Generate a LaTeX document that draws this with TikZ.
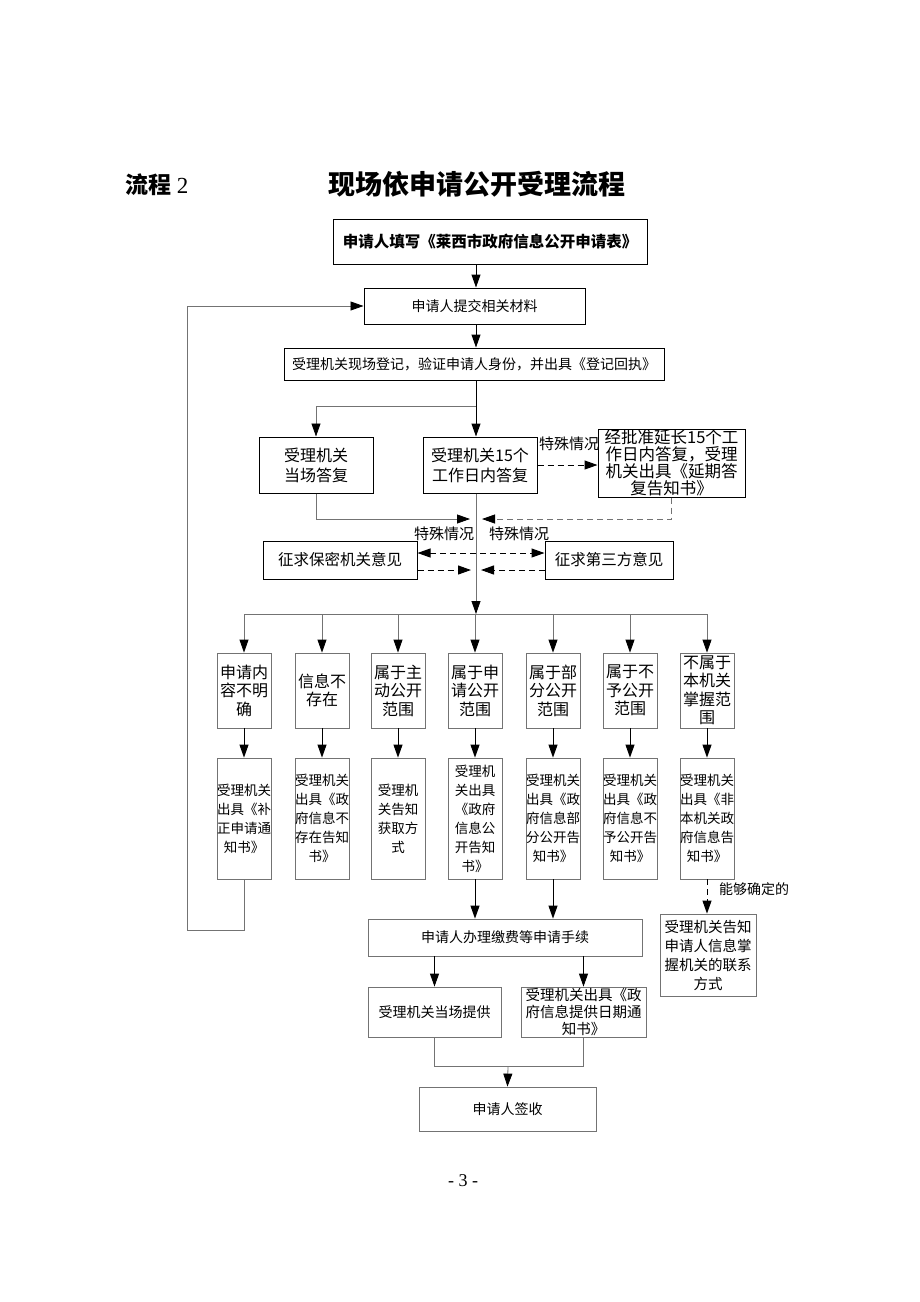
\documentclass[tikz,border=0pt]{standalone}
\usepackage{fontspec}
\setmainfont{Liberation Serif}
\newfontfamily\cjk{Noto Sans CJK SC}
\usetikzlibrary{positioning, arrows.meta}

\tikzset{
  box/.style={draw, line width=1pt, align=center, inner sep=0pt,
    font=\cjk\fontsize{14}{18}\selectfont},
  gbox/.style={box, draw=black!55, line width=0.8pt},
  colbox/.style={gbox, minimum width=54pt},
  arr/.style={-{Triangle[length=13pt,width=9pt]}, line width=1pt},
  garr/.style={-{Triangle[length=13pt,width=9pt,color=black]}, draw=black!55, line width=0.8pt},
  darr/.style={-{Triangle[length=13pt,width=9pt]}, dash pattern=on 6pt off 4pt, line width=1pt},
  gdarr/.style={-{Triangle[length=13pt,width=9pt,color=black]}, dash pattern=on 6pt off 4pt, draw=black!55, line width=0.8pt},
  lbl/.style={font=\cjk\fontsize{15}{16}\selectfont, inner sep=1pt}
}

\begin{document}
\begin{tikzpicture}[x=1pt,y=-1pt]
  \useasboundingbox (0,0) rectangle (920,1302);

  % 标题
  \node[anchor=base west, inner sep=0, font=\fontsize{23}{26}\selectfont] (head) at (125,193) {{\cjk\bfseries 流程} 2};
  \node[anchor=base west, inner sep=0, font=\cjk\fontsize{27}{30}\selectfont\bfseries] (title) at (328,194) {现场依申请公开受理流程};

  % 上部
  \node[box, minimum width=314pt, minimum height=45pt, font=\cjk\fontsize{15.5}{18}\selectfont\bfseries] (form) at (490,241.5) {申请人填写《莱西市政府信息公开申请表》};
  \node[box, minimum width=221pt, minimum height=36pt] (submit) at (474.5,306) {申请人提交相关材料};
  \node[box, minimum width=380pt, minimum height=32pt] (reg) at (474,364) {受理机关现场登记，验证申请人身份，并出具《登记回执》};
  \node[box, minimum width=114pt, minimum height=56pt, font=\cjk\fontsize{16}{20}\selectfont] (spot) at (316,465) {受理机关\\当场答复};
  \node[box, minimum width=114pt, minimum height=56pt, font=\cjk\fontsize{16}{20}\selectfont] (days) at (480,465) {受理机关15个\\工作日内答复};
  \node[box, minimum width=147pt, minimum height=68pt, font=\cjk\fontsize{16.5}{17}\selectfont] (ext) at (671.5,463) {经批准延长15个工\\作日内答复，受理\\机关出具《延期答\\复告知书》};
  \node[box, minimum width=154pt, minimum height=38pt, font=\cjk\fontsize{15.5}{18}\selectfont] (secret) at (340,560) {征求保密机关意见};
  \node[box, minimum width=128pt, minimum height=38pt, font=\cjk\fontsize{15.5}{18}\selectfont] (third) at (609,560) {征求第三方意见};

  \coordinate (spine) at (476,0);
  \coordinate (fork) at (476,406);
  \coordinate (mergeL) at (470,519);
  \coordinate (mergeR) at (482,519);
  \coordinate (bar) at (476,614);

  \draw[arr] (form.south -| spine) -- (submit.north -| spine);
  \draw[arr] (submit.south -| spine) -- (reg.north -| spine);
  \draw[arr] (reg.south -| spine) -- (days.north -| spine);
  \draw[garr] (fork) -| (spot.north);
  \draw[darr] (days.east) -- (ext.west |- days.east);
  \node[lbl, anchor=south west] (spec1) at (538,452) {特殊情况};
  \draw[garr] (spot.south) |- (mergeL);
  \draw[gdarr] (ext.south) |- (mergeR);
  \draw[garr] (days.south -| spine) -- (bar);
  \node[lbl] (spec2) at (444,534) {特殊情况};
  \node[lbl] (spec3) at (519,534) {特殊情况};
  \draw[darr, {Triangle[length=13pt,width=9pt]}-{Triangle[length=13pt,width=9pt]}] (secret.east |- 0,553) -- (third.west |- 0,553);
  \draw[darr] (secret.east |- 0,570) -- (471,570);
  \draw[darr] (third.west |- 0,570) -- (481,570);

  % 七种情形
  \foreach \n/\x/\t in {1/244/申请内\\容不明\\确, 2/322/信息不\\存在, 3/398/属于主\\动公开\\范围,
      4/475/属于申\\请公开\\范围, 5/553/属于部\\分公开\\范围, 6/630/属于不\\予公开\\范围, 7/707/不属于\\本机关\\掌握范\\围}
    \node[colbox, minimum height=75pt, font=\cjk\fontsize{16}{18.5}\selectfont] (p\n) at (\x,690.5) {\t};

  \foreach \n/\x/\t in {1/244/受理机关\\出具《补\\正申请通\\知书》, 2/322/受理机关\\出具《政\\府信息不\\存在告知\\书》,
      3/398/受理机\\关告知\\获取方\\式, 4/475/受理机\\关出具\\《政府\\信息公\\开告知\\书》,
      5/553/受理机关\\出具《政\\府信息部\\分公开告\\知书》, 6/630/受理机关\\出具《政\\府信息不\\予公开告\\知书》,
      7/707/受理机关\\出具《非\\本机关政\\府信息告\\知书》}
    \node[colbox, minimum height=121pt, font=\cjk\fontsize{13.5}{19}\selectfont] (q\n) at (\x,818.5) {\t};

  \draw[draw=black!55, line width=0.8pt] (bar -| p1) -- (bar -| p7);
  \foreach \n in {1,...,7} {
    \draw[garr] (bar -| p\n) -- (p\n.north);
    \draw[arr] (p\n.south) -- (q\n.north);
  }

  % 下部
  \node[gbox, minimum width=274pt, minimum height=37pt] (fee) at (505,937.5) {申请人办理缴费等申请手续};
  \node[gbox, minimum width=96pt, minimum height=82pt, font=\cjk\fontsize{14.5}{19}\selectfont] (tell) at (708,955) {受理机关告知\\申请人信息掌\\握机关的联系\\方式};
  \node[gbox, minimum width=133pt, minimum height=50pt] (now) at (434.5,1012) {受理机关当场提供};
  \node[gbox, minimum width=125pt, minimum height=50pt, font=\cjk\fontsize{14.5}{17}\selectfont] (date) at (583.5,1012) {受理机关出具《政\\府信息提供日期通\\知书》};
  \node[gbox, minimum width=177pt, minimum height=44pt] (sign) at (507.5,1109) {申请人签收};

  \coordinate (join) at (508,1066);
  \draw[garr] (q1.south) |- (187,930) |- (submit.west);
  \draw[arr] (q4.south) -- (q4.south |- fee.north);
  \draw[arr] (q5.south) -- (q5.south |- fee.north);
  \draw[darr] (q7.south) -- (q7.south |- tell.north);
  \node[lbl, font=\cjk\fontsize{14}{16}\selectfont, anchor=west] (sure) at (718,889) {能够确定的};
  \draw[arr] (fee.south -| now) -- (now.north);
  \draw[arr] (fee.south -| date) -- (date.north);
  \draw[draw=black!55, line width=0.8pt] (now.south) |- (join) -| (date.south);
  \draw[garr] (join) -- (sign.north);

  \node[font=\fontsize{18}{20}\selectfont] (page) at (463,1181) {- 3 -};
\end{tikzpicture}
\end{document}
